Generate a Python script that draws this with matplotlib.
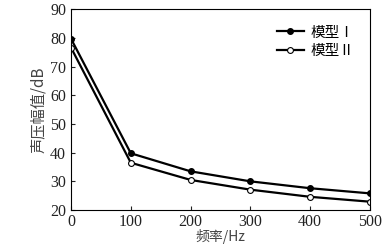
import matplotlib
matplotlib.use("Agg")
import matplotlib.pyplot as plt

freq = [0, 100, 200, 300, 400, 500]
model1 = [79.8, 39.8, 33.5, 30.0, 27.6, 25.8]
model2 = [76.7, 36.5, 30.5, 27.1, 24.6, 22.9]
labels = ["模型Ⅰ", "模型Ⅱ"]
xticks = [0, 100, 200, 300, 400, 500]
yticks = [20, 30, 40, 50, 60, 70, 80, 90]

plt.rcParams['font.family'] = ['Liberation Serif', 'Noto Sans CJK SC']

fig = plt.figure(figsize=(3.91, 2.45), dpi=100)
ax = fig.add_axes([71/391, 1-210/245, (370-71)/391, (210-9.5)/245])

ax.plot(freq, model1, color='black', lw=1.6, marker='o', ms=4, mfc='black', mec='black', label=labels[0])
ax.plot(freq, model2, color='black', lw=1.6, marker='o', ms=4.2, mfc='white', mec='black', mew=0.8, label=labels[1])

ax.set_xlim(0, 500)
ax.set_ylim(20, 90)
ax.set_xticks(xticks)
ax.set_yticks(yticks)
ax.tick_params(direction='in', length=3, labelsize=11.5, width=0.8, colors='#222222')
ax.tick_params(axis='x', pad=3)
for s in ax.spines.values():
    s.set_linewidth(0.8)

ax.set_xlabel("频率/Hz", fontsize=10, family=['Noto Sans CJK SC'], labelpad=-1, color='#444444')
ax.set_ylabel("声压幅值/dB", fontsize=11, family=['Noto Sans CJK SC'], labelpad=2, color='#444444')

leg = ax.legend(loc='upper right', frameon=False, prop={'family': 'Noto Sans CJK SC', 'size': 10.5},
                handlelength=1.9, handletextpad=0.4, labelspacing=0.3, borderaxespad=0.7)

fig.savefig("out.png", dpi=100)
